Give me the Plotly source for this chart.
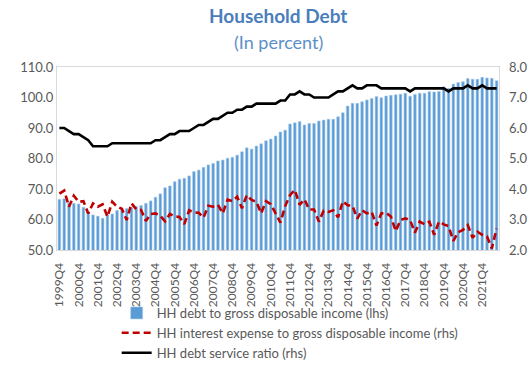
import plotly.graph_objects as go

# Quarterly periods, 1999Q4 .. 2022Q3
years = list(range(1999, 2023))
quarters = []
for y in years:
    for q in range(1, 5):
        label = f"{y}Q{q}"
        if "1999Q4" <= label <= "2022Q3":
            quarters.append(label)

# HH debt to gross disposable income (lhs, %)
debt_to_income = [
    66.6, 66.8, 65.5, 65.3, 65.1, 64.0, 62.6, 61.5, 61.1, 60.4,
    61.5, 61.8, 63.0, 63.1, 63.6, 63.8, 64.3, 64.6, 65.3, 66.1,
    67.3, 68.4, 70.4, 71.0, 72.4, 73.2, 73.5, 74.3, 75.7, 76.2,
    77.1, 77.9, 78.4, 79.2, 79.5, 80.1, 80.4, 81.1, 82.2, 83.5,
    83.1, 84.1, 84.8, 85.8, 86.4, 87.4, 88.7, 89.3, 91.3, 91.7,
    92.1, 91.0, 91.5, 91.5, 92.3, 92.6, 92.9, 92.9, 93.7, 95.0,
    97.2, 98.1, 98.1, 98.6, 99.2, 99.7, 100.3, 99.9, 100.5, 100.7,
    100.9, 101.1, 101.4, 100.4, 101.0, 101.4, 101.4, 101.9, 101.8, 102.0,
    103.5, 103.0, 104.4, 104.9, 105.2, 106.2, 106.0, 106.0, 106.6, 106.4,
    106.3, 105.5,
]

# HH interest expense to gross disposable income (rhs, %)
interest_to_income = [
    3.85, 3.95, 3.42, 3.78, 3.58, 3.60, 3.20, 3.53, 3.42, 3.50,
    3.09, 3.58, 3.42, 3.35, 2.98, 3.53, 3.33, 3.31, 2.95, 3.18,
    3.20, 3.12, 2.94, 3.18, 3.10, 3.08, 2.85, 3.30, 3.23, 3.22,
    3.06, 3.45, 3.42, 3.48, 3.20, 3.65, 3.60, 3.75, 3.37, 3.80,
    3.64, 3.58, 3.20, 3.60, 3.50, 3.20, 2.90, 3.44, 3.80, 3.97,
    3.48, 3.66, 3.33, 3.33, 2.93, 3.29, 3.25, 3.30, 3.07, 3.60,
    3.47, 3.45, 3.03, 3.30, 3.20, 3.25, 2.80, 3.20, 3.22, 3.10,
    2.62, 2.98, 3.04, 2.98, 2.57, 2.93, 2.84, 2.93, 2.50, 2.93,
    2.84, 2.78, 2.30, 2.58, 2.66, 2.82, 2.40, 2.60, 2.50, 2.45,
    2.05, 2.70,
]

# HH debt service ratio (rhs, %)
debt_service_ratio = [
    6.0, 6.0, 5.9, 5.8, 5.8, 5.7, 5.6, 5.4, 5.4, 5.4,
    5.4, 5.5, 5.5, 5.5, 5.5, 5.5, 5.5, 5.5, 5.5, 5.5,
    5.6, 5.6, 5.7, 5.8, 5.8, 5.9, 5.9, 5.9, 6.0, 6.1,
    6.1, 6.2, 6.3, 6.3, 6.4, 6.5, 6.5, 6.6, 6.6, 6.7,
    6.7, 6.8, 6.8, 6.8, 6.8, 6.8, 6.9, 6.9, 7.1, 7.1,
    7.2, 7.1, 7.1, 7.0, 7.0, 7.0, 7.0, 7.1, 7.2, 7.2,
    7.3, 7.4, 7.3, 7.3, 7.4, 7.4, 7.4, 7.3, 7.3, 7.3,
    7.3, 7.3, 7.3, 7.2, 7.3, 7.3, 7.3, 7.3, 7.3, 7.3,
    7.3, 7.2, 7.3, 7.3, 7.3, 7.4, 7.3, 7.3, 7.4, 7.3,
    7.3, 7.3,
]

tick_labels = [q for q in quarters if q.endswith("Q4")]

FONT = "Lato"
GREY = "#595959"

fig = go.Figure()
fig.add_trace(go.Bar(
    x=quarters, y=debt_to_income,
    name="HH debt to gross disposable income (lhs)",
    marker=dict(color="#5b9bd5", line=dict(color="#a9cbea", width=0.6)),
    yaxis="y",
))
fig.add_trace(go.Scatter(
    x=quarters, y=interest_to_income,
    name="HH interest expense to gross disposable income (rhs)",
    mode="lines",
    line=dict(color="#c00000", width=2.6, dash="7px,4px"),
    yaxis="y2",
))
fig.add_trace(go.Scatter(
    x=quarters, y=debt_service_ratio,
    name="HH debt service ratio (rhs)",
    mode="lines",
    line=dict(color="#000000", width=2.6),
    yaxis="y2",
))

fig.update_layout(
    width=531, height=366,
    margin=dict(l=57, r=32, t=67, b=116, autoexpand=False),
    paper_bgcolor="white", plot_bgcolor="white",
    font=dict(family=FONT, size=12, color=GREY),
    bargap=0.45,
    showlegend=True,
    legend=dict(
        x=0.135, y=-0.262, xanchor="left", yanchor="top",
        orientation="v", font=dict(size=13, color=GREY),
        tracegroupgap=0, itemwidth=30,
        bgcolor="rgba(0,0,0,0)",
    ),
    xaxis=dict(
        type="category", automargin=False,
        tickmode="array", tickvals=tick_labels, ticktext=tick_labels,
        tickangle=-90, tickfont=dict(size=12, color=GREY),
        ticklabelstandoff=7,
        showgrid=False, showline=True, linecolor="#d9d9d9", linewidth=1,
        mirror=True, ticks="", zeroline=False,
    ),
    yaxis=dict(
        range=[50, 110], dtick=10, tickformat=".1f", automargin=False,
        showgrid=False, showline=True, linecolor="#d9d9d9", linewidth=1,
        mirror=True, ticks="", zeroline=False,
        tickfont=dict(size=13, color=GREY),
    ),
    yaxis2=dict(
        range=[2, 8], dtick=1, tickformat=".1f", automargin=False,
        overlaying="y", side="right",
        showgrid=False, showline=False, ticks="", zeroline=False,
        tickfont=dict(size=13, color=GREY), ticklabelstandoff=9,
    ),
)

# title block above the plot area, positioned in pixels from the top edge
plot_h = 366 - 67 - 116
fig.add_annotation(
    text="<b>Household Debt</b>", x=0.5, y=1 + (67 - 16) / plot_h,
    xref="paper", yref="paper", yanchor="middle", showarrow=False,
    font=dict(family=FONT, size=19, color="#4a7ebb"),
)
fig.add_annotation(
    text="(In percent)", x=0.5, y=1 + (67 - 42) / plot_h,
    xref="paper", yref="paper", yanchor="middle", showarrow=False,
    font=dict(family=FONT, size=18, color="#5b8fc7"),
)

fig.write_html("out.html")
